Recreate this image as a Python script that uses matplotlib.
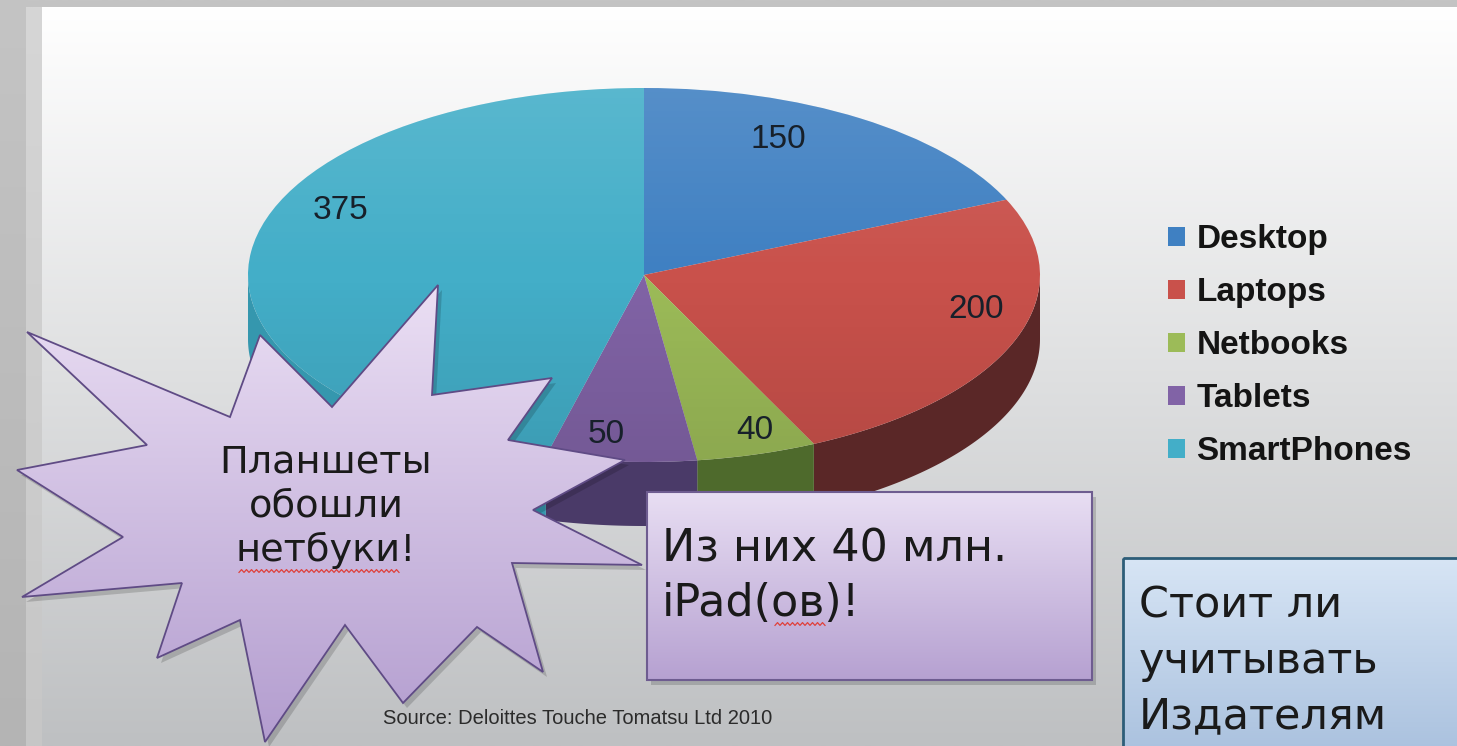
import numpy as np
import matplotlib.pyplot as plt
from matplotlib.patches import Polygon, Rectangle, Ellipse
from matplotlib.colors import LinearSegmentedColormap

categories = ['Desktop', 'Laptops', 'Netbooks', 'Tablets', 'SmartPhones']
values = [150, 200, 40, 50, 375]
source = 'Source: Deloittes Touche Tomatsu Ltd 2010'
star_text = 'Планшеты\nобошли\nнетбуки!'
box_text = 'Из них 40 млн.\niPad(ов)!'
side_text = 'Стоит ли\nучитывать\nИздателям'

top_colors = ['#3f80c2', '#c9514b', '#9cbb58', '#8163a6', '#43aec8']
side_colors = ['#1f4a78', '#5a2727', '#4e6a2c', '#4a3a68', '#3597ae']

W, H = 1457, 746
fig = plt.figure(figsize=(W / 100, H / 100), dpi=100)


def vgrad(ax, x0, x1, y0, y1, c_top, c_bot, z, clip=None):
    cmap = LinearSegmentedColormap.from_list('g', [c_top, c_bot])
    grad = np.linspace(0, 1, 256).reshape(-1, 1)
    im = ax.imshow(grad, cmap=cmap, extent=(x0, x1, y1, y0), aspect='auto',
                   zorder=z, interpolation='bilinear')
    if clip is not None:
        im.set_clip_path(clip)
    return im


def squiggle(ax, x0, x1, y):
    # spell-checker style wavy underline
    xs = np.arange(x0, x1, 2.5)
    ys = y + 1.4 * (-1) ** np.arange(len(xs))
    ax.plot(xs, ys, color='#e0403a', lw=0.9, zorder=5)


# background (pixel coordinates, y down)
bg = fig.add_axes([0, 0, 1, 1], zorder=0)
vgrad(bg, 0, W, 0, H, '#c4c4c4', '#b4b4b4', 0)
vgrad(bg, 26, 42, 7, H, '#d6d6d6', '#c6c6c6', 0.5)
vgrad(bg, 42, W, 7, H, '#ffffff', '#bec0c2', 1)
bg.set_xlim(0, W)
bg.set_ylim(H, 0)
bg.axis('off')

# pie, squashed to an ellipse with a visible side wall
px0, px1, py_top, py_front = 248, 1040, 88, 462
depth_px = 64
ry_px = (py_front - py_top) / 2
depth = depth_px / ry_px
extra = depth_px + 20
pie_ax = fig.add_axes([px0 / W, 1 - (py_front + extra) / H,
                       (px1 - px0) / W, (py_front + extra - py_top) / H], zorder=1)
wedges, _ = pie_ax.pie(values, colors=top_colors, startangle=90,
                       counterclock=False, radius=1,
                       wedgeprops=dict(linewidth=0, zorder=2))
for w, sc in zip(wedges, side_colors):
    for k in (-1, 0, 1):
        a = max(w.theta1, 180 + 360 * k)
        b = min(w.theta2, 360 + 360 * k)
        if b <= a:
            continue
        t = np.radians(np.linspace(a, b, 100))
        x, y = np.cos(t), np.sin(t)
        pts = np.column_stack([np.concatenate([x, x[::-1]]),
                               np.concatenate([y, y[::-1] - depth])])
        pie_ax.add_patch(Polygon(pts, closed=True, fc=sc, ec='none', zorder=1))

# soft light-to-dark sheen over the top face
rim = Ellipse((0, 0), 2, 2, fc='none', ec='none')
pie_ax.add_patch(rim)
sheen = np.zeros((256, 1, 4))
sheen[:128, 0, :3] = 1.0
sheen[:128, 0, 3] = np.linspace(0.12, 0.0, 128)
sheen[128:, 0, 3] = np.linspace(0.0, 0.10, 128)
im = pie_ax.imshow(sheen, extent=(-1, 1, -1, 1), aspect='auto', zorder=3,
                   interpolation='bilinear')
im.set_clip_path(rim)

label_r = [0.80, 0.86, 0.88, 0.86, 0.84]
label_turn = [8, 8, 2, -3, -17]
for w, v, r, d in zip(wedges, values, label_r, label_turn):
    mid = np.radians((w.theta1 + w.theta2) / 2 + d)
    pie_ax.text(r * np.cos(mid), r * np.sin(mid), str(v), ha='center', va='center',
                fontsize=24, family='Liberation Sans', color='#17202a', zorder=5)
pie_ax.set_aspect('auto')
pie_ax.set_xlim(-1, 1)
pie_ax.set_ylim(-1 - extra / ry_px, 1)
pie_ax.axis('off')

# overlay: callouts, legend, source
ov = fig.add_axes([0, 0, 1, 1], zorder=2)

star = [(27, 332), (230, 417), (260, 335), (332, 407), (438, 285), (432, 395),
        (552, 378), (508, 440), (625, 460), (533, 510), (642, 565), (512, 563),
        (543, 672), (477, 627), (403, 703), (345, 625), (265, 742), (240, 620),
        (157, 658), (182, 583), (22, 597), (123, 537), (17, 470), (147, 445)]
star = np.array(star, dtype=float)
ov.add_patch(Polygon(star + [4, 5], closed=True, fc='#000000', alpha=0.16, ec='none', zorder=1))
star_patch = Polygon(star, closed=True, fc='none', ec='#5f4b85', lw=1.3, zorder=3)
ov.add_patch(star_patch)
vgrad(ov, 0, 660, 285, 742, '#ebdff4', '#b39dcf', 2, clip=star_patch)
# va='baseline' pins the last line's baseline
ov.text(326, 561, star_text, ha='center', va='baseline', fontsize=27.5,
        family='DejaVu Sans', color='#1a1a1a', linespacing=1.26, zorder=4)
squiggle(ov, 239, 400, 571)

# box with iPad note
bx0, by0, bx1, by1 = 647, 492, 1092, 680
ov.add_patch(Rectangle((bx0 + 4, by0 + 5), bx1 - bx0, by1 - by0, fc='#000000',
                       alpha=0.16, ec='none', zorder=1))
box1 = Rectangle((bx0, by0), bx1 - bx0, by1 - by0, fc='none', ec='#6e5c90', lw=1.5, zorder=3)
ov.add_patch(box1)
vgrad(ov, bx0, bx1, by0, by1, '#e8def3', '#b6a1d1', 2, clip=box1)
ov.text(662, 616, box_text, ha='left', va='baseline', fontsize=32,
        family='DejaVu Sans', color='#1a1a1a', linespacing=1.35, zorder=4)
squiggle(ov, 775, 826, 624)

# question box at lower right
cx0, cy0 = 1123, 558
box2 = Rectangle((cx0, cy0), W + 20 - cx0, H + 20 - cy0, fc='none', ec='#2d5d78', lw=2, zorder=3)
ov.add_patch(box2)
vgrad(ov, cx0, W + 20, cy0, H + 20, '#d7e5f5', '#a7bfdd', 2, clip=box2)
ov.text(1139, 728, side_text, ha='left', va='baseline', fontsize=31,
        family='DejaVu Sans', color='#1a1a1a', linespacing=1.40, zorder=4)

ov.text(578, 718, source, ha='center', va='center', fontsize=14.5,
        family='Liberation Sans', color='#2b2b2b', zorder=4)

ov.legend(wedges, categories, loc='upper left', bbox_to_anchor=(1168, 224),
          bbox_transform=ov.transData, frameon=False, borderpad=0, borderaxespad=0,
          prop=dict(family='Liberation Sans', size=24, weight='bold'), handlelength=0.5,
          handleheight=0.5, handletextpad=0.35, labelspacing=0.66, labelcolor='#141414')

ov.set_xlim(0, W)
ov.set_ylim(H, 0)
ov.axis('off')

fig.savefig('out.png', dpi=100)
